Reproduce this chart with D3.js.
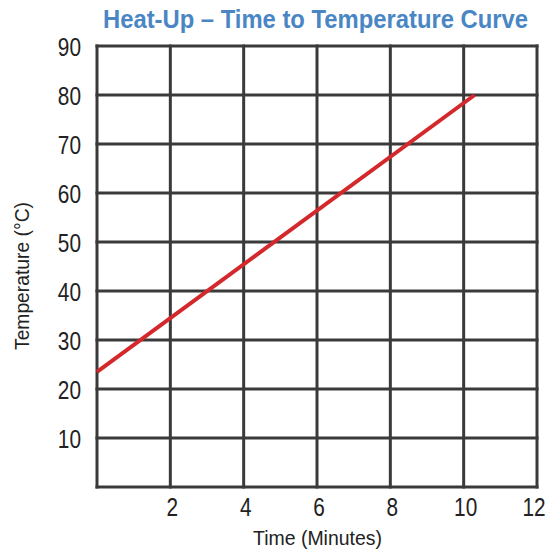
<!DOCTYPE html>
<html>
<head>
<meta charset="utf-8">
<script src="https://cdn.jsdelivr.net/npm/d3@7"></script>
<style>
  body { margin: 0; background: #fff; }
  text { font-family: "Liberation Sans Narrow", "Liberation Sans", Arial, sans-serif; fill: #222; }
</style>
</head>
<body>
<svg id="chart" width="548" height="553"></svg>
<script>
// data
var timeMin = [0, 10.3];                  // minutes
var tempC = [23.5, 80];                   // degrees C
var xTicks = [2, 4, 6, 8, 10, 12];
var yTicks = [10, 20, 30, 40, 50, 60, 70, 80, 90];
var xGrid = [0, 2, 4, 6, 8, 10, 12];
var yGrid = [0, 10, 20, 30, 40, 50, 60, 70, 80, 90];

var svg = d3.select("#chart");

var x = d3.scaleLinear().domain([0, 12]).range([97, 537]);
var y = d3.scaleLinear().domain([0, 90]).range([487, 46]);

var narrow = 0.8;   // squeeze factor, the original uses a condensed face

// title
svg.append("text")
    .attr("x", 103)
    .attr("y", 28)
    .attr("textLength", 425)
    .attr("lengthAdjust", "spacingAndGlyphs")
    .style("font-size", "25px")
    .style("font-weight", "bold")
    .style("fill", "#4a86c4")
    .text("Heat-Up \u2013 Time to Temperature Curve");

var grid = svg.append("g");

grid.selectAll("line.v")
    .data(xGrid)
    .enter().append("line")
    .attr("class", "v")
    .attr("x1", function(d){ return x(d); })
    .attr("x2", function(d){ return x(d); })
    .attr("y1", y(0) + 1.5)
    .attr("y2", y(90) - 1.5)
    .attr("stroke", "#3a3a3a")
    .attr("stroke-width", 3);

grid.selectAll("line.h")
    .data(yGrid)
    .enter().append("line")
    .attr("class", "h")
    .attr("x1", x(0) - 1.5)
    .attr("x2", x(12) + 1.5)
    .attr("y1", function(d){ return y(d); })
    .attr("y2", function(d){ return y(d); })
    .attr("stroke", "#3a3a3a")
    .attr("stroke-width", 3);

// tick labels (squeezed horizontally)
svg.selectAll("text.yt")
    .data(yTicks)
    .enter().append("text")
    .attr("class", "yt")
    .attr("transform", function(d){ return "translate(81," + (y(d) + 9.5) + ") scale(" + narrow + ",1)"; })
    .attr("text-anchor", "end")
    .style("font-size", "26px")
    .text(function(d){ return d; });

svg.selectAll("text.xt")
    .data(xTicks)
    .enter().append("text")
    .attr("class", "xt")
    .attr("transform", function(d){ return "translate(" + Math.min(x(d) + 2, 534) + ",516) scale(" + narrow + ",1)"; })
    .attr("text-anchor", "middle")
    .style("font-size", "26px")
    .text(function(d){ return d; });

// axis titles
svg.append("text")
    .attr("x", 253)
    .attr("y", 545)
    .attr("textLength", 129)
    .attr("lengthAdjust", "spacingAndGlyphs")
    .style("font-size", "21px")
    .text("Time (Minutes)");

svg.append("text")
    .attr("transform", "translate(29,350) rotate(-90)")
    .attr("textLength", 148)
    .attr("lengthAdjust", "spacingAndGlyphs")
    .style("font-size", "21px")
    .text("Temperature (\u00B0C)");

// the curve
var line = d3.line()
    .x(function(d){ return x(d[0]); })
    .y(function(d){ return y(d[1]); });

svg.append("path")
    .datum(d3.zip(timeMin, tempC))
    .attr("d", line)
    .attr("fill", "none")
    .attr("stroke", "#d3282c")
    .attr("stroke-width", 4);
</script>
</body>
</html>
